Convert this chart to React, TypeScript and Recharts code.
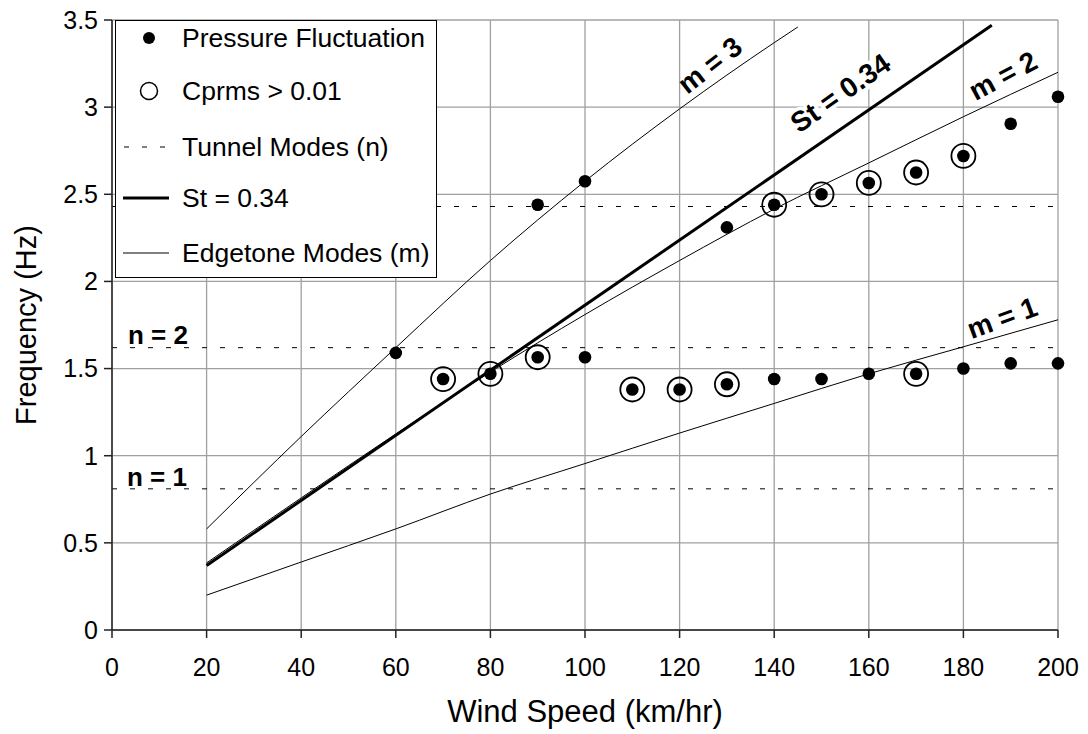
import React from 'react';
import {
  ComposedChart,
  Line,
  Scatter,
  XAxis,
  YAxis,
  CartesianGrid,
  ReferenceLine,
  ReferenceDot,
} from 'recharts';

const FONT = 'Arial, "Liberation Sans", sans-serif';
const DASH = '5 13';

// axes
const X_TICKS = [0, 20, 40, 60, 80, 100, 120, 140, 160, 180, 200];
const Y_TICKS = [0, 0.5, 1, 1.5, 2, 2.5, 3, 3.5];

// measured pressure fluctuation peaks
const pressureSpeed = [60, 70, 80, 90, 90, 100, 100, 110, 120, 130, 130, 140, 140, 150, 150, 160, 160, 170, 170, 180, 180, 190, 190, 200, 200];
const pressureFreq = [1.59, 1.44, 1.47, 1.565, 2.44, 1.565, 2.575, 1.38, 1.38, 1.41, 2.31, 1.44, 2.44, 1.44, 2.5, 1.47, 2.565, 1.47, 2.625, 1.5, 2.72, 1.53, 2.905, 1.53, 3.06];

// peaks with Cprms > 0.01 (circled)
const cprmsSpeed = [70, 80, 90, 110, 120, 130, 140, 150, 160, 170, 170, 180];
const cprmsFreq = [1.44, 1.47, 1.565, 1.38, 1.38, 1.41, 2.44, 2.5, 2.565, 1.47, 2.625, 2.72];

// edgetone modes
const edgeSpeed = [20, 40, 60, 80, 100, 120, 140, 160, 180, 200];
const edgeM1 = [0.2, 0.39, 0.58, 0.78, 0.955, 1.13, 1.3, 1.47, 1.625, 1.78];
const edgeM2 = [0.385, 0.758, 1.125, 1.48, 1.81, 2.12, 2.415, 2.68, 2.945, 3.2];
const edgeM3Speed = [20, 40, 60, 80, 100, 120, 140, 145];
const edgeM3 = [0.58, 1.11, 1.62, 2.12, 2.575, 2.99, 3.37, 3.46];

// Strouhal line St = 0.34
const stSpeed = [20, 186];
const stFreq = [0.37, 3.47];

// tunnel modes n = 1, 2, 3
const tunnelFreq = [0.81, 1.62, 2.43];

// inline annotations (data coords)
const notes = [
  { text: 'm = 3', x: 126.4, y: 3.24, angle: -38, halo: false },
  { text: 'St = 0.34', x: 154.0, y: 3.08, angle: -35, halo: true },
  { text: 'm = 2', x: 188.4, y: 3.18, angle: -28, halo: false },
  { text: 'm = 1', x: 188.2, y: 1.79, angle: -20, halo: false },
  { text: 'n = 2', x: 9.7, y: 1.69, angle: 0, halo: false },
  { text: 'n = 1', x: 9.5, y: 0.88, angle: 0, halo: false },
];

const zip = (xs: number[], ys: number[]) => xs.map((x, i) => ({ x, y: ys[i] }));

const pressurePts = zip(pressureSpeed, pressureFreq);
const cprmsPts = zip(cprmsSpeed, cprmsFreq);
const m1Pts = zip(edgeSpeed, edgeM1);
const m2Pts = zip(edgeSpeed, edgeM2);
const m3Pts = zip(edgeM3Speed, edgeM3);
const stPts = zip(stSpeed, stFreq);

function FilledDot(props: any) {
  const { cx, cy } = props;
  if (cx == null || cy == null) return null;
  return <circle cx={cx} cy={cy} r={6.3} fill="#000" />;
}

function Ring(props: any) {
  const { cx, cy } = props;
  if (cx == null || cy == null) return null;
  return <circle cx={cx} cy={cy} r={12} fill="none" stroke="#000" strokeWidth={1.8} />;
}

function noteShape(n: (typeof notes)[number]) {
  return (props: any) => {
    const { cx, cy } = props;
    return (
      <text
        x={cx}
        y={cy}
        transform={`rotate(${n.angle} ${cx} ${cy})`}
        textAnchor="middle"
        dominantBaseline="central"
        fontFamily={FONT}
        fontSize={n.angle === 0 ? 26 : 28}
        fontWeight="bold"
        fill="#000"
        stroke={n.halo ? '#fff' : 'none'}
        strokeWidth={n.halo ? 7 : 0}
        paintOrder="stroke"
      >
        {n.text}
      </text>
    );
  };
}

const legendRows = [
  { label: 'Pressure Fluctuation', kind: 'dot', y: 17 },
  { label: 'Cprms > 0.01', kind: 'ring', y: 70 },
  { label: 'Tunnel Modes (n)', kind: 'dash', y: 126 },
  { label: 'St = 0.34', kind: 'thick', y: 177 },
  { label: 'Edgetone Modes (m)', kind: 'thin', y: 232 },
];

function ChartLegend() {
  return (
    <div
      style={{
        position: 'absolute',
        left: 115,
        top: 20,
        width: 322,
        height: 258,
        border: '1px solid #000',
        background: '#fff',
        boxSizing: 'border-box',
      }}
    >
      <svg width={322} height={258} style={{ display: 'block' }}>
        {legendRows.map((r) => (
          <g key={r.label}>
            {r.kind === 'dot' && <circle cx={33} cy={r.y} r={6} fill="#000" />}
            {r.kind === 'ring' && <circle cx={33} cy={r.y} r={8.5} fill="none" stroke="#000" strokeWidth={1.5} />}
            {r.kind === 'dash' && <line x1={8} x2={52} y1={r.y} y2={r.y} stroke="#000" strokeDasharray={DASH} />}
            {r.kind === 'thick' && <line x1={7} x2={53} y1={r.y} y2={r.y} stroke="#000" strokeWidth={3} />}
            {r.kind === 'thin' && <line x1={7} x2={53} y1={r.y} y2={r.y} stroke="#000" strokeWidth={1} />}
            <text x={66} y={r.y} dominantBaseline="central" fontFamily={FONT} fontSize={26.5} fill="#000">
              {r.label}
            </text>
          </g>
        ))}
      </svg>
    </div>
  );
}

export default function App() {
  return (
    <div style={{ position: 'absolute', left: 0, top: 0, width: 1088, height: 734, background: '#fff' }}>
      <ComposedChart width={1088} height={734} margin={{ top: 20, right: 30, left: 0, bottom: 0 }}>
        <CartesianGrid stroke="#a0a0a0" strokeWidth={1.3} />
        <XAxis
          type="number"
          dataKey="x"
          domain={[0, 200]}
          ticks={X_TICKS}
          height={104}
          tickSize={8}
          tickMargin={20}
          stroke="#222"
          strokeWidth={1.5}
          tick={{ fill: '#000', fontSize: 25, fontFamily: FONT }}
          label={{
            content: (p: any) => {
              const vb = p.viewBox;
              return (
                <text x={vb.x + vb.width / 2} y={722} textAnchor="middle" fontFamily={FONT} fontSize={31} fill="#000">
                  Wind Speed (km/hr)
                </text>
              );
            },
          }}
        />
        <YAxis
          type="number"
          dataKey="y"
          domain={[0, 3.5]}
          ticks={Y_TICKS}
          width={112}
          tickSize={8}
          tickMargin={6}
          stroke="#222"
          strokeWidth={1.5}
          tick={{ fill: '#000', fontSize: 25, fontFamily: FONT }}
          label={{
            content: (p: any) => {
              const vb = p.viewBox;
              const cy = vb.y + vb.height / 2;
              return (
                <text x={36} y={cy} transform={`rotate(-90 36 ${cy})`} textAnchor="middle" fontFamily={FONT} fontSize={29} fill="#000">
                  Frequency (Hz)
                </text>
              );
            },
          }}
        />
        {tunnelFreq.map((f) => (
          <ReferenceLine key={f} y={f} stroke="#000" strokeWidth={1} strokeDasharray={DASH} />
        ))}
        <Line data={m1Pts} dataKey="y" type="monotone" stroke="#000" strokeWidth={1} dot={false} isAnimationActive={false} />
        <Line data={m2Pts} dataKey="y" type="monotone" stroke="#000" strokeWidth={1} dot={false} isAnimationActive={false} />
        <Line data={m3Pts} dataKey="y" type="monotone" stroke="#000" strokeWidth={1} dot={false} isAnimationActive={false} />
        <Line data={stPts} dataKey="y" type="linear" stroke="#000" strokeWidth={3} dot={false} isAnimationActive={false} />
        <Scatter data={pressurePts} dataKey="y" shape={FilledDot} isAnimationActive={false} />
        <Scatter data={cprmsPts} dataKey="y" shape={Ring} isAnimationActive={false} />
        {notes.map((n) => (
          <ReferenceDot key={n.text} x={n.x} y={n.y} r={0} shape={noteShape(n)} />
        ))}
      </ComposedChart>
      <ChartLegend />
    </div>
  );
}
